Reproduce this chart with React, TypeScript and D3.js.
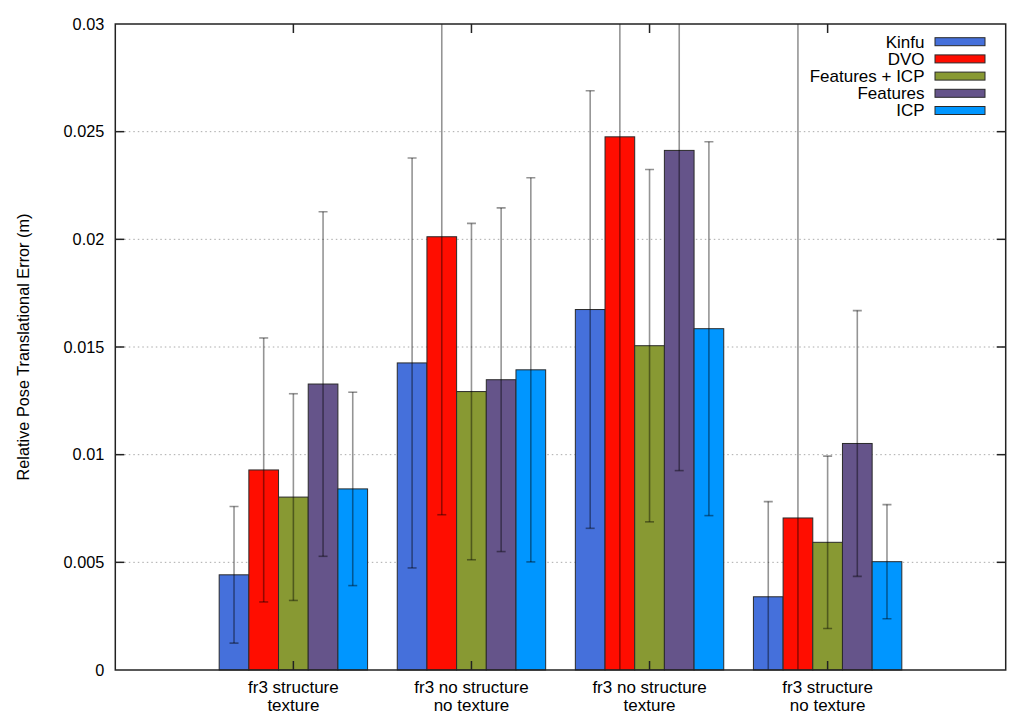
import { useEffect } from 'react';
import * as d3 from 'd3';

// categories along the x axis (two-line labels)
const categories = [
    ['fr3 structure', 'texture'],
    ['fr3 no structure', 'no texture'],
    ['fr3 no structure', 'texture'],
    ['fr3 structure', 'no texture'],
];

const methods = ['Kinfu', 'DVO', 'Features + ICP', 'Features', 'ICP'];
const colors = ['#4570db', '#ff0d00', '#889933', '#65548a', '#0096ff'];

// mean error per method, one entry per category
const kinfuMean = [0.00442, 0.01426, 0.01674, 0.0034];
const dvoMean = [0.00929, 0.02012, 0.02476, 0.00706];
const featIcpMean = [0.00803, 0.01293, 0.01506, 0.00593];
const featMean = [0.01328, 0.01348, 0.02413, 0.01052];
const icpMean = [0.00841, 0.01394, 0.01585, 0.00503];

// standard deviation (error bar half length)
const kinfuStd = [0.00317, 0.00952, 0.01016, 0.00442];
const dvoStd = [0.00613, 0.01291, 0.027, 0.026];
const featIcpStd = [0.0048, 0.00781, 0.00818, 0.004];
const featStd = [0.008, 0.00798, 0.01487, 0.00617];
const icpStd = [0.00449, 0.00892, 0.00868, 0.00265];

const yTicks = [0, 0.005, 0.01, 0.015, 0.02, 0.025, 0.03];

const means = [kinfuMean, dvoMean, featIcpMean, featMean, icpMean];
const stds = [kinfuStd, dvoStd, featIcpStd, featStd, icpStd];

const FONT = '"Liberation Sans", Arial, Helvetica, sans-serif';

export default function App() {
    useEffect(() => {
        document.body.style.margin = '0';
    }, []);

    const width = 1024;
    const height = 725;
    const margin = { top: 24, right: 18.3, bottom: 55, left: 115.3 };

    const x = d3.scaleLinear()
        .domain([-1, 4])
        .range([margin.left, width - margin.right]);
    const y = d3.scaleLinear()
        .domain([0, 0.03])
        .range([height - margin.bottom, margin.top]);

    const barW = 1 / 6;
    const capHalf = 4.5;
    const tickLen = 9;

    const bars = methods.flatMap((m, k) =>
        categories.map((_, i) => {
            const cx = i + (k - 2) * barW;
            return {
                key: `${m}-${i}`,
                x0: x(cx - barW / 2),
                x1: x(cx + barW / 2),
                cx: x(cx),
                top: y(means[k][i]),
                lo: y(means[k][i] - stds[k][i]),
                hi: y(means[k][i] + stds[k][i]),
                color: colors[k],
            };
        })
    );

    const x0 = x(-1), x1 = x(4), y0 = y(0), y1 = y(0.03);

    return (
        <svg width={width} height={height} style={{ display: 'block', background: '#fff' }}
            fontFamily={FONT}>
            <defs>
                <clipPath id="plot">
                    <rect x={x0} y={y1} width={x1 - x0} height={y0 - y1} />
                </clipPath>
            </defs>

            {/* grid */}
            {yTicks.slice(1, -1).map(t => (
                <line key={`g${t}`} x1={x0} x2={x1} y1={y(t)} y2={y(t)}
                    stroke="#aaa" strokeWidth={1} strokeDasharray="1.5,3" />
            ))}

            {/* bars */}
            {bars.map(b => (
                <rect key={b.key} x={b.x0} y={b.top} width={b.x1 - b.x0} height={y0 - b.top}
                    fill={b.color} stroke="#2a2a2a" strokeWidth={1} />
            ))}

            {/* error bars */}
            <g clipPath="url(#plot)" stroke="#000" strokeOpacity={0.42} strokeWidth={1.6}>
                {bars.map(b => (
                    <g key={`e${b.key}`}>
                        <line x1={b.cx} x2={b.cx} y1={b.lo} y2={b.hi} />
                        <line x1={b.cx - capHalf} x2={b.cx + capHalf} y1={b.lo} y2={b.lo} />
                        <line x1={b.cx - capHalf} x2={b.cx + capHalf} y1={b.hi} y2={b.hi} />
                    </g>
                ))}
            </g>

            {/* frame */}
            <rect x={x0} y={y1} width={x1 - x0} height={y0 - y1} fill="none" stroke="#222" strokeWidth={1.5} />

            {/* y ticks */}
            {yTicks.map(t => (
                <g key={`yt${t}`}>
                    {t > 0 && t < 0.03 && (
                        <>
                            <line x1={x0} x2={x0 + tickLen} y1={y(t)} y2={y(t)} stroke="#222" strokeWidth={1.5} />
                            <line x1={x1} x2={x1 - tickLen} y1={y(t)} y2={y(t)} stroke="#222" strokeWidth={1.5} />
                        </>
                    )}
                    <text x={x0 - 11} y={y(t)} dy="0.35em" textAnchor="end" fontSize={16.3} fill="#000">
                        {t === 0 ? '0' : d3.format('.3~f')(t)}
                    </text>
                </g>
            ))}

            {/* x ticks & labels */}
            {categories.map((c, i) => (
                <g key={`xc${i}`}>
                    <line x1={x(i)} x2={x(i)} y1={y0} y2={y0 - tickLen} stroke="#222" strokeWidth={1.5} />
                    <line x1={x(i)} x2={x(i)} y1={y1} y2={y1 + tickLen} stroke="#222" strokeWidth={1.5} />
                    {c.map((line, j) => (
                        <text key={j} x={x(i)} y={y0 + 23 + j * 18} textAnchor="middle" fontSize={17} fill="#000">
                            {line}
                        </text>
                    ))}
                </g>
            ))}

            {/* y axis title */}
            <text transform={`translate(29,${(y0 + y1) / 2}) rotate(-90)`} textAnchor="middle"
                fontSize={16.3} fill="#000">
                Relative Pose Translational Error (m)
            </text>

            {/* legend */}
            {methods.map((m, k) => {
                const ly = 41.7 + k * 17.2;
                return (
                    <g key={`l${m}`}>
                        <text x={924.5} y={ly} dy="0.35em" textAnchor="end" fontSize={17} fill="#000">{m}</text>
                        <rect x={935} y={ly - 4} width={50} height={8} fill={colors[k]} stroke="#2a2a2a" strokeWidth={1} />
                    </g>
                );
            })}
        </svg>
    );
}
